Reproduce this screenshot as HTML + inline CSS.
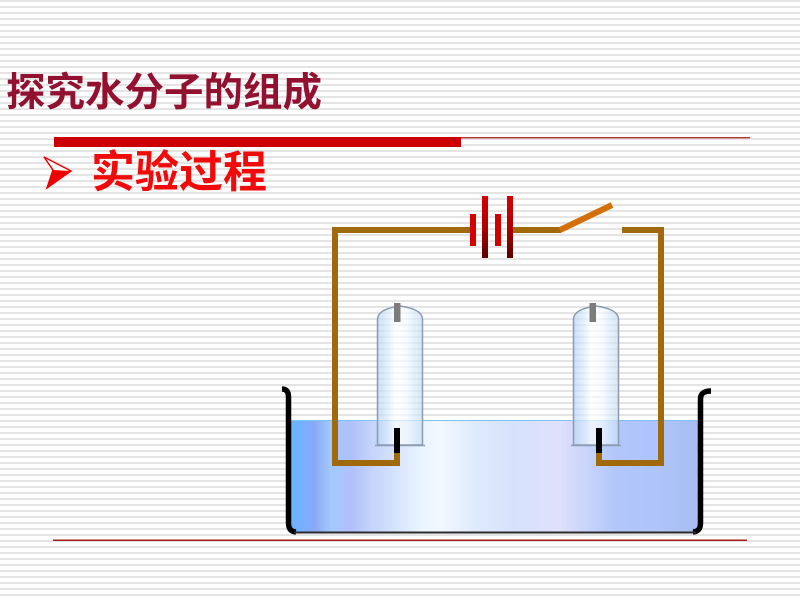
<!DOCTYPE html>
<html><head><meta charset="utf-8"><style>
html,body{margin:0;padding:0;}
body{width:800px;height:600px;overflow:hidden;position:relative;
background:repeating-linear-gradient(to bottom,#e4e4e4 0px,#e4e4e4 2px,#ffffff 2px,#ffffff 6px);}
svg{position:absolute;left:0;top:0;}
</style></head><body>
<svg width="800" height="600" viewBox="0 0 800 600" xmlns="http://www.w3.org/2000/svg">
<defs>
<linearGradient id="water" x1="290" y1="0" x2="698" y2="0" gradientUnits="userSpaceOnUse">
<stop offset="0" stop-color="#66b4ff"/>
<stop offset="0.035" stop-color="#78b0fc"/>
<stop offset="0.06" stop-color="#8aa8f8"/>
<stop offset="0.1" stop-color="#a2cafa"/>
<stop offset="0.15" stop-color="#b0c0fa"/>
<stop offset="0.2" stop-color="#c4d4fb"/>
<stop offset="0.26" stop-color="#d6e4fd"/>
<stop offset="0.32" stop-color="#e8f4ff"/>
<stop offset="0.37" stop-color="#f2f8ff"/>
<stop offset="0.45" stop-color="#dfeafd"/>
<stop offset="0.55" stop-color="#d6e2fc"/>
<stop offset="0.66" stop-color="#e0e0fc"/>
<stop offset="0.73" stop-color="#c8d4fb"/>
<stop offset="0.8" stop-color="#b2c6fa"/>
<stop offset="0.9" stop-color="#aec4fa"/>
<stop offset="1" stop-color="#a6bef2"/>
</linearGradient>
<linearGradient id="tube" x1="0" y1="0" x2="1" y2="0">
<stop offset="0" stop-color="#b8d4f0"/>
<stop offset="0.2" stop-color="#d4e8fc"/>
<stop offset="0.4" stop-color="#ffffff"/>
<stop offset="0.65" stop-color="#f4f9ff"/>
<stop offset="0.85" stop-color="#d6e8fb"/>
<stop offset="1" stop-color="#c8dcf2"/>
</linearGradient>
<linearGradient id="plate" x1="0" y1="0" x2="0" y2="1">
<stop offset="0" stop-color="#d80000"/>
<stop offset="0.5" stop-color="#b00000"/>
<stop offset="1" stop-color="#5a0000"/>
</linearGradient>
</defs>

<!-- Title -->
<text x="6" y="106" font-family="'Liberation Sans','Noto Sans CJK SC',sans-serif" font-size="39.5" font-weight="bold" fill="#921030">探究水分子的组成</text>

<!-- red bar and thin line -->
<rect x="54" y="137" width="407" height="10" fill="#cc0000"/>
<rect x="461" y="137" width="289" height="1.4" fill="#b43030"/>

<!-- bullet arrow -->
<polygon points="44,157 71,171 47,188 53,170" fill="#ffffff" stroke="#ee0000" stroke-width="1.5" stroke-linejoin="miter"/>
<polygon points="53,170 71,171 47,188" fill="#ee0000"/>

<text x="91" y="187" font-family="'Liberation Sans','Noto Sans CJK SC',sans-serif" font-size="44" font-weight="bold" fill="#f00a0a">实验过程</text>

<!-- water -->
<rect x="290" y="420" width="410" height="112" fill="url(#water)"/>
<line x1="290" y1="420.5" x2="700" y2="420.5" stroke="#7cc4f8" stroke-width="1"/>

<!-- tubes -->
<g>
<path d="M377.5,445 L377.5,319 Q378,309 400,306 Q422,309 422.5,319 L422.5,445 Z" fill="url(#tube)" fill-opacity="0.7" stroke="#8c9cb2" stroke-width="1.5"/>
<path d="M375,445.5 L425,445.5" stroke="#8c9cb2" stroke-width="1.5"/>
<rect x="394" y="303" width="6.5" height="19" fill="#7c7c7c"/>
</g>
<g>
<path d="M573.5,445 L573.5,319 Q574,309 596,306 Q618,309 618.5,319 L618.5,445 Z" fill="url(#tube)" fill-opacity="0.7" stroke="#8c9cb2" stroke-width="1.5"/>
<path d="M571,445.5 L621,445.5" stroke="#8c9cb2" stroke-width="1.5"/>
<rect x="589.5" y="303" width="6.5" height="19" fill="#7c7c7c"/>
</g>

<!-- wires -->
<g fill="#a06a0c">
<rect x="332" y="227" width="138" height="6"/>
<rect x="332" y="227" width="6" height="239"/>
<rect x="332" y="460" width="68" height="6"/>
<rect x="394" y="453" width="6" height="13"/>
<rect x="513" y="227" width="48" height="6"/>
<rect x="622" y="227" width="42" height="6"/>
<rect x="658" y="227" width="6" height="239"/>
<rect x="596" y="460" width="68" height="6"/>
<rect x="596" y="453" width="6" height="13"/>
</g>
<rect x="394" y="428" width="6" height="25" fill="#000"/>
<rect x="596" y="428" width="6" height="25" fill="#000"/>

<!-- switch -->
<line x1="560" y1="230" x2="612" y2="205" stroke="#d4700a" stroke-width="6"/>

<!-- battery -->
<rect x="470" y="214" width="6" height="32" fill="#d40000"/>
<rect x="482" y="196" width="6" height="62" fill="url(#plate)"/>
<rect x="495" y="214" width="6" height="32" fill="#d40000"/>
<rect x="507" y="196" width="6" height="62" fill="url(#plate)"/>

<!-- beaker -->
<path d="M282,389 Q288.5,389 288.5,397 L288.5,523 Q288.5,531.5 296,532" fill="none" stroke="#000" stroke-width="5.5"/>
<path d="M711,391 Q700.5,391 700.5,399 L700.5,523 Q700.5,531.5 693,532" fill="none" stroke="#000" stroke-width="5.5"/>
<line x1="294" y1="532.5" x2="696" y2="532.5" stroke="#2a2a2a" stroke-width="2"/>

<!-- bottom line -->
<rect x="53" y="539.5" width="694" height="1.5" fill="#a81818"/>
</svg>
</body></html>
